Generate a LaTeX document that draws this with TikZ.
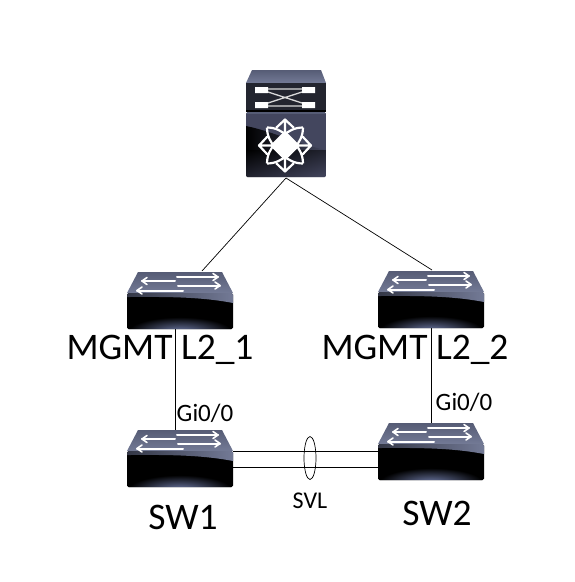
\documentclass[tikz,border=0pt]{standalone}
\usepackage{fontspec}
\usetikzlibrary{shapes.geometric}
\setmainfont{Carlito}
\definecolor{slate}{HTML}{737A96}
\definecolor{slatedk}{HTML}{565C75}
\definecolor{glow}{HTML}{6F7BA8}
\definecolor{rim}{HTML}{23252F}
\definecolor{coreface}{HTML}{43465E}
\newcommand{\swarrowR}[3]{\draw[white,line width=2pt,line cap=round] (#1,#3)--(#2,#3); \draw[white,line width=1.6pt,line cap=round,line join=round] (#2-5,#3-3.5)--(#2,#3)--(#2-5,#3+3.5);}
\newcommand{\swarrowL}[3]{\draw[white,line width=2pt,line cap=round] (#1,#3)--(#2,#3); \draw[white,line width=1.6pt,line cap=round,line join=round] (#1+5,#3-3.5)--(#1,#3)--(#1+5,#3+3.5);}
\newcommand{\swicon}[2]{%
\begin{scope}[shift={(#1,#2)}]
 \shade[top color=slatedk,bottom color=slate] (11,0)--(95,0)--(106,21)--(0,21)--cycle;
 \fill[black,rounded corners=1.5pt] (0,21)--(106,21)--(106,57)--(0,57)--cycle;
 \begin{scope}
  \clip[rounded corners=1.5pt] (0,21)--(106,21)--(106,57)--(0,57)--cycle;
  \shade[inner color=glow,outer color=black] (53,60) ellipse (52 and 15);
  \shade[left color=slatedk!60!black,right color=slate] (0,21)--(106,21)--(106,31) .. controls (70,24) and (30,25) .. (0,25)--cycle;
 \end{scope}
 \swarrowR{50}{91}{5}
 \swarrowL{15}{48}{9}
 \swarrowR{51}{93}{13.5}
 \swarrowL{10}{56}{18.5}
\end{scope}}
\newcommand{\corestar}{%
 \begin{scope}[shift={(285,145.5)}]
  \foreach \a in {0,90,180,270}{
   \begin{scope}[rotate=\a]
    \draw[white,line width=2.2pt,line join=round,line cap=round] (0,-12)--(0,-26) (-8.5,-18)--(0,-26)--(8.5,-18);
    \draw[white,line width=2.2pt,line join=round] (18,-18) .. controls (9,-18) and (3,-14) .. (-2,-10) (18,-18) .. controls (18,-9) and (14,-3) .. (10,2);
   \end{scope}}
  \fill[white,rounded corners=1pt] (0,-15)--(15,0)--(0,15)--(-15,0)--cycle;
 \end{scope}}
\tikzset{
 icon/.style={inner sep=0pt,outer sep=0pt,minimum width=#1},
 wire/.style={draw=black,line width=0.7pt},
 biglabel/.style={inner sep=0pt,font=\fontsize{37.5}{37.5}\selectfont},
 smalllabel/.style={inner sep=0pt,font=\fontsize{25}{25}\selectfont},
 midlabel/.style={inner sep=0pt,font=\fontsize{24}{24}\selectfont},
}
\begin{document}
\begin{tikzpicture}[x=1pt,y=-1pt]
\useasboundingbox (0,0) rectangle (575,582);
% named anchors for the devices
\node[icon=80pt,minimum height=107pt] (core) at (286,123.5) {};
\node[icon=106pt,minimum height=57pt] (mg1) at (180,300.5) {};
\node[icon=106pt,minimum height=57pt] (mg2) at (431,299.5) {};
\node[icon=106pt,minimum height=57pt] (sw1) at (180,458.5) {};
\node[icon=106pt,minimum height=57pt] (sw2) at (431,451.5) {};
% connectors
\draw[wire] ([yshift=-1pt]core.south) -- ([xshift=22pt,yshift=1pt]mg1.north);
\draw[wire] ([yshift=-1pt]core.south) -- ([xshift=1pt,yshift=1pt]mg2.north);
\draw[wire] ([xshift=-4.5pt]mg1.south) -- ([xshift=-4.5pt]sw1.north);
\draw[wire] ([xshift=.5pt]mg2.south) -- ([xshift=.5pt]sw2.north);
\draw[wire] ([yshift=7pt]sw1.east) -- (sw2.west);
\draw[wire] ([yshift=-9pt]sw1.east) -- ([yshift=-16pt]sw2.west);
\node[draw=black,line width=0.7pt,ellipse,minimum width=12pt,minimum height=43pt,inner sep=0pt] (svl) at (310,458) {};
% core icon
\begin{scope}
 \shade[top color=slatedk,bottom color=slate] (252,70)--(321,70)--(326,83)--(246,83)--cycle;
 \fill[rim] (246,83) rectangle (326,111);
 \fill[black] (246,110) rectangle (326,112);
 \begin{scope}
  \clip[rounded corners=1.5pt] (246,112) rectangle (326,177);
  \fill[coreface] (246,112) rectangle (326,177);
  \shade[left color=black,right color=coreface] (246,126) .. controls (275,132) and (300,145) .. (326,150) -- (326,177) -- (246,177) -- cycle;
  \shade[top color=black,bottom color=coreface,opacity=0.5] (246,150) rectangle (326,177);
  \fill[slatedk] (246,112) rectangle (326,114);
 \end{scope}
 \fill[white] (255,87) rectangle (268,93) (315,87) rectangle (302,93) (255,102) rectangle (268,108) (315,102) rectangle (302,108);
 \draw[white!85!black,line width=1.3pt] (268,92)--(302,103) (268,103)--(302,92) (268,89)--(302,89) (268,106)--(302,106);
 \corestar
\end{scope}
\swicon{127}{272}
\swicon{378}{271}
\swicon{127}{430}
\swicon{378}{423}
% labels
\node[biglabel] (l1) at (160,350) {MGMT L2\_1};
\node[biglabel] (l2) at (415,350) {MGMT L2\_2};
\node[biglabel] (l3) at (183,517) {SW1};
\node[biglabel] (l4) at (437,513) {SW2};
\node[smalllabel] (g1) at (205,413) {Gi0/0};
\node[smalllabel] (g2) at (464,402) {Gi0/0};
\node[midlabel] (s) at (310,501) {SVL};
\end{tikzpicture}
\end{document}
